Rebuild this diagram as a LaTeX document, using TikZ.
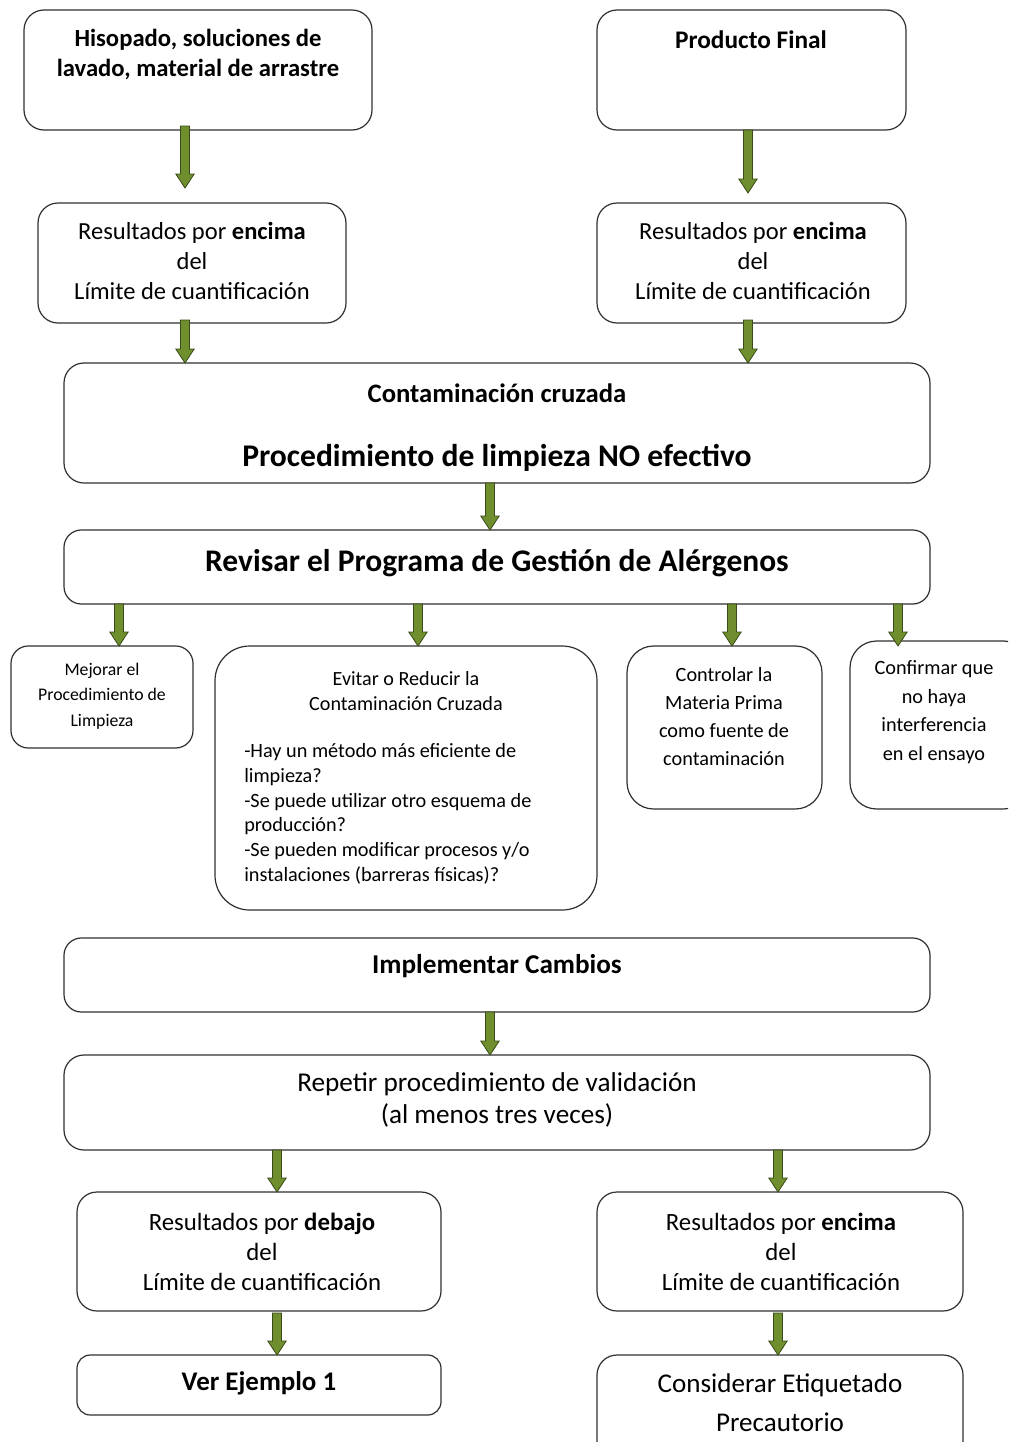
\documentclass[tikz,border=0pt]{standalone}
\usepackage{fontspec}
\setmainfont{Carlito}
\usetikzlibrary{calc}
\definecolor{arrgreen}{HTML}{6F8F2E}
\definecolor{arrline}{HTML}{3A4A18}
\definecolor{boxline}{HTML}{303030}
\newcommand\fs[2]{\fontsize{#1}{#2}\selectfont}
\newcommand\bx[6]{\node[box, rounded corners=#6, minimum width={(#4-#2)*0.75pt}, minimum height={(#5-#3)*0.75pt}] (#1) at ({(#2+#4)/2},{(#3+#5)/2}) {};}
\newcommand\barrow[2]{\filldraw[arr] let \p1=(#1), \p2=(#2) in
 (\x1-3.4pt,\y1) -- (\x1+3.4pt,\y1) -- (\x1+3.4pt,\y2+10.5pt) -- (\x1+6.9pt,\y2+10.5pt) -- (\x1,\y2) -- (\x1-6.9pt,\y2+10.5pt) -- (\x1-3.4pt,\y2+10.5pt) -- cycle;}
\begin{document}
\begin{tikzpicture}[x=0.75pt,y=-0.75pt,
  box/.style={draw=boxline, line width=0.9pt, fill=white, inner sep=0pt, outer sep=0pt},
  txt/.style={inner sep=0pt, align=center, text=black},
  arr/.style={fill=arrgreen, draw=arrline, line width=0.6pt, line join=miter}]
\useasboundingbox (0,0) rectangle (1008,1442);
\fill[white] (0,0) rectangle (1008,1442);
\begin{scope}
\clip (0,0) rectangle (1008,1442);
% boxes
\bx{A}{24}{10}{372}{130}{15pt}
\bx{B}{597}{10}{906}{130}{15pt}
\bx{C}{38}{203}{346}{323}{15pt}
\bx{D}{597}{203}{906}{323}{15pt}
\bx{E}{64}{363}{930}{483}{15pt}
\bx{F}{64}{530}{930}{604}{13pt}
\bx{G1}{11}{646}{193}{748}{13pt}
\bx{G2}{215}{646}{597}{910}{26pt}
\bx{G3}{627}{646}{822}{809}{20pt}
\bx{G4}{850}{641}{1030}{809}{20pt}
\bx{H}{64}{938}{930}{1012}{13pt}
\bx{I}{64}{1055}{930}{1150}{15pt}
\bx{J}{77}{1192}{441}{1311}{15pt}
\bx{K}{597}{1192}{963}{1311}{15pt}
\bx{L}{77}{1355}{441}{1415}{10pt}
\bx{M}{597}{1355}{963}{1470}{15pt}
\end{scope}
% texts
\node[txt, font=\fs{18.5}{22.5}\bfseries] (tA) at (198,55) {Hisopado, soluciones de\\lavado, material de arrastre};
\node[txt, font=\fs{19}{22.5}\bfseries] (tB) at (751,40) {Producto Final};
\node[txt, font=\fs{18.4}{22.5}] (tC) at (192,261) {Resultados por \textbf{encima}\\del\\Límite de cuantificación};
\node[txt, font=\fs{18.4}{22.5}] (tD) at (753,261) {Resultados por \textbf{encima}\\del\\Límite de cuantificación};
\node[txt, font=\fs{20}{22}\bfseries] (tE1) at (497,393) {Contaminación cruzada};
\node[txt, font=\fs{23.7}{26}\bfseries] (tE2) at (497,458) {Procedimiento de limpieza NO efectivo};
\node[txt, font=\fs{23.6}{26}\bfseries] (tF) at (497,563) {Revisar el Programa de Gestión de Alérgenos};
\node[txt, font=\fs{13.3}{19}] (tG1) at (102,696) {Mejorar el\\Procedimiento de\\Limpieza};
\node[txt, font=\fs{15.1}{18.5}] (tG2a) at (406,691) {Evitar o Reducir la\\Contaminación Cruzada};
\node[txt, font=\fs{15.2}{18.5}, align=left, anchor=west] (tG2b) at (244,814) {-Hay un método más eficiente de\\limpieza?\\-Se puede utilizar otro esquema de\\producción?\\-Se pueden modificar procesos y/o\\instalaciones (barreras físicas)?};
\node[txt, font=\fs{15.2}{21}] (tG3) at (724,717) {Controlar la\\Materia Prima\\como fuente de\\contaminación};
\node[txt, font=\fs{15.2}{21.5}] (tG4) at (934,712) {Confirmar que\\no haya\\interferencia\\en el ensayo};
\node[txt, font=\fs{20.4}{22}\bfseries] (tH) at (497,966) {Implementar Cambios};
\node[txt, font=\fs{20.4}{24.5}] (tI) at (497,1100) {Repetir procedimiento de validación\\(al menos tres veces)};
\node[txt, font=\fs{18.6}{22.5}] (tJ) at (262,1252) {Resultados por \textbf{debajo}\\del\\Límite de cuantificación};
\node[txt, font=\fs{18.6}{22.5}] (tK) at (781,1252) {Resultados por \textbf{encima}\\del\\Límite de cuantificación};
\node[txt, font=\fs{20.2}{22}\bfseries] (tL) at (259,1383) {Ver Ejemplo 1};
\node[txt, font=\fs{20.3}{29}] (tM) at (780,1403) {Considerar Etiquetado\\Precautorio};
% arrow x positions
\coordinate (x185) at (185,0);
\coordinate (x748) at (748,0);
\coordinate (x490) at (490,0);
\coordinate (x119) at (119,0);
\coordinate (x418) at (418,0);
\coordinate (x732) at (732,0);
\coordinate (x898) at (898,0);
\coordinate (x277) at (277,0);
\coordinate (x778) at (778,0);
\barrow{$(x185 |- A.south)+(0,-4)$}{$(x185 |- C.north)+(0,-15)$}
\barrow{$(x748 |- B.south)$}{$(x748 |- D.north)+(0,-10)$}
\barrow{$(x185 |- C.south)+(0,-3)$}{x185 |- E.north}
\barrow{$(x748 |- D.south)+(0,-3)$}{x748 |- E.north}
\barrow{x490 |- E.south}{x490 |- F.north}
\barrow{x119 |- F.south}{x119 |- G1.north}
\barrow{x418 |- F.south}{x418 |- G2.north}
\barrow{x732 |- F.south}{x732 |- G3.north}
\barrow{x898 |- F.south}{$(x898 |- G1.north)$}
\barrow{x490 |- H.south}{x490 |- I.north}
\barrow{x277 |- I.south}{x277 |- J.north}
\barrow{x778 |- I.south}{x778 |- K.north}
\barrow{$(x277 |- J.south)+(0,2)$}{x277 |- L.north}
\barrow{$(x778 |- K.south)+(0,2)$}{x778 |- M.north}
\end{tikzpicture}
\end{document}
